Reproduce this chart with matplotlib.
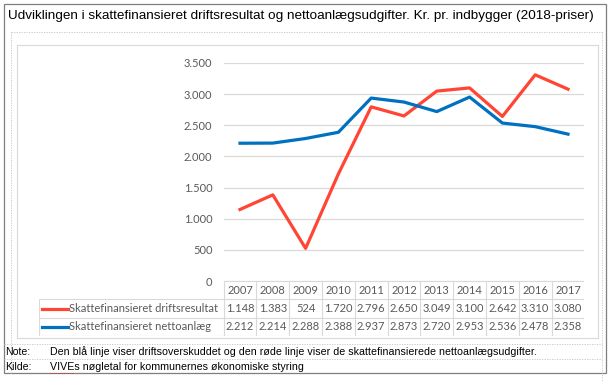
import matplotlib
matplotlib.use("Agg")
import matplotlib.pyplot as plt
from matplotlib.lines import Line2D
from matplotlib.patches import Rectangle

# data (kr. pr. indbygger, 2018-priser)
years = [2007, 2008, 2009, 2010, 2011, 2012, 2013, 2014, 2015, 2016, 2017]
drift = [1148, 1383, 524, 1720, 2796, 2650, 3049, 3100, 2642, 3310, 3080]
netto = [2212, 2214, 2288, 2388, 2937, 2873, 2720, 2953, 2536, 2478, 2358]
series_names = ["Skattefinansieret driftsresultat", "Skattefinansieret nettoanlæg"]
yticks = [0, 500, 1000, 1500, 2000, 2500, 3000, 3500]

title = "Udviklingen i skattefinansieret driftsresultat og nettoanlægsudgifter. Kr. pr. indbygger (2018-priser)"
note = "Den blå linje viser driftsoverskuddet og den røde linje viser de skattefinansierede nettoanlægsudgifter."
source = "VIVEs nøgletal for kommunernes økonomiske styring"

RED = "#FF4534"
BLUE = "#0070C0"
GRID = "#d9d9d9"
TXT = "#595959"
CHART_FONT = "Lato"
DOC_FONT = "Liberation Sans"
CHART_FS = 8.0

W, H = 613, 382
fig = plt.figure(figsize=(W / 100, H / 100), dpi=100)


def fx(px):
    return px / W


def fy(py):
    return 1 - py / H


def fline(x0, y0, x1, y1, **kw):
    fig.add_artist(Line2D([fx(x0), fx(x1)], [fy(y0), fy(y1)], transform=fig.transFigure, **kw))


def fmt(v):
    return f"{v:,}".replace(",", ".")


# document frame (Word table look)
fig.add_artist(Rectangle((fx(3.5), fy(373)), fx(606) - fx(3.5), (373 - 4) / H,
                         transform=fig.transFigure, fill=False, ec="#7f7f7f", lw=0.9))
dash = dict(color="#c4c4c4", lw=0.6, linestyle=(0, (1.5, 1.5)))
fline(11, 32, 602, 32, **dash)
fline(11, 32, 11, 373, **dash)
fline(602, 32, 602, 382, **dash)
fline(3.5, 344, 602, 344, **dash)
fline(3.5, 359, 602, 359, **dash)

# chart area border
fig.add_artist(Rectangle((fx(16.7), fy(338)), fx(598) - fx(16.7), (338 - 45) / H,
                         transform=fig.transFigure, fill=False, ec=GRID, lw=0.8))

fig.text(fx(8), fy(16), title, fontsize=9.7, family=DOC_FONT, va="center", ha="left")
fig.text(fx(5), fy(352), "Note:", fontsize=7.6, family=DOC_FONT, va="center")
fig.text(fx(50), fy(352), note, fontsize=7.7, family=DOC_FONT, va="center")
fig.text(fx(5), fy(367.5), "Kilde:", fontsize=7.6, family=DOC_FONT, va="center")
fig.text(fx(50), fy(367.5), source, fontsize=7.7, family=DOC_FONT, va="center")
# spell-check squiggle under "VIVEs"
fline(50, 372.5, 73, 372.5, color="#e03030", lw=0.7, linestyle=(0, (1, 1)))

# plot area
x0_px, x1_px, ytop_px, ybot_px = 223.6, 584.4, 63, 281
ax = fig.add_axes([fx(x0_px), fy(ybot_px), fx(x1_px) - fx(x0_px), (ybot_px - ytop_px) / H])
x = list(range(len(years)))
ax.plot(x, drift, color=RED, lw=2.3, solid_joinstyle="round", zorder=3)
ax.plot(x, netto, color=BLUE, lw=2.3, solid_joinstyle="round", zorder=3)
ax.set_xlim(-0.5, len(years) - 0.5)
ax.set_ylim(0, 3500)
ax.set_yticks(yticks)
ax.set_yticklabels([fmt(v) for v in yticks], fontsize=CHART_FS, color=TXT, family=CHART_FONT)
ax.tick_params(axis="y", length=0, pad=8)
ax.set_xticks([])
ax.yaxis.grid(True, color=GRID, lw=0.9)
ax.set_axisbelow(True)
for s in ax.spines.values():
    s.set_visible(False)

# data table below the plot
col_w = (x1_px - x0_px) / len(years)
tab_left_px, tab_bot_px = 39, 336
x_left = -0.5 - (x0_px - tab_left_px) / col_w
axt = fig.add_axes([fx(tab_left_px), fy(tab_bot_px), fx(x1_px) - fx(tab_left_px),
                    (tab_bot_px - ybot_px) / H])
axt.set_xlim(x_left, len(years) - 0.5)
axt.set_ylim(3, 0)
axt.axis("off")
bd = dict(color=GRID, lw=0.8)
axt.hlines(0, -0.5, len(years) - 0.5, **bd)
axt.hlines([1, 2, 3], x_left, len(years) - 0.5, **bd)
axt.vlines(x_left, 1, 3, **bd)
axt.vlines([i - 0.5 for i in range(len(years) + 1)], 0, 3, **bd)

for i, yr in enumerate(years):
    axt.text(i, 0.5, str(yr), ha="center", va="center", fontsize=CHART_FS, color=TXT, family=CHART_FONT)
for row, (vals, col, name) in enumerate(zip([drift, netto], [RED, BLUE], series_names), start=1):
    for i, v in enumerate(vals):
        axt.text(i, row + 0.5, fmt(v), ha="center", va="center", fontsize=CHART_FS, color=TXT,
                 family=CHART_FONT)
    axt.plot([x_left + 3 / col_w, x_left + 29 / col_w], [row + 0.5, row + 0.5], color=col, lw=2.3)
    axt.text(x_left + 30 / col_w, row + 0.5, name, ha="left", va="center", fontsize=CHART_FS,
             color=TXT, family=CHART_FONT)

fig.savefig("out.png", dpi=100)
